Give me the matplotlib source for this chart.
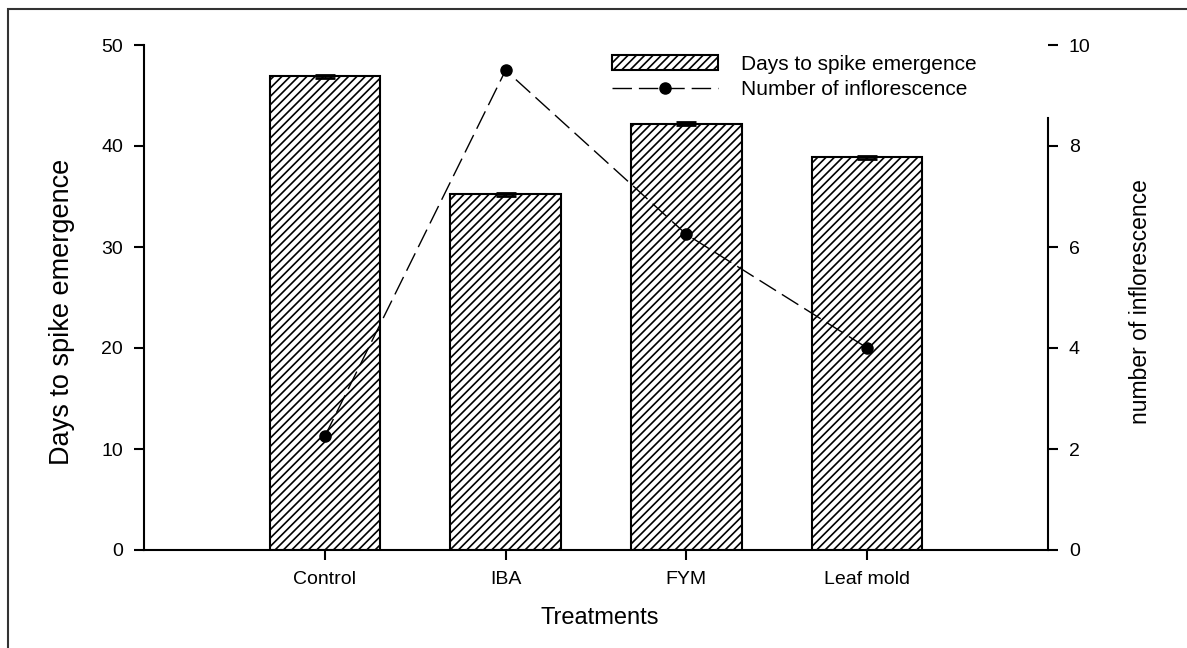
import matplotlib.pyplot as plt
from matplotlib.patches import Rectangle
import numpy as np

# data
treatments = ["Control", "IBA", "FYM", "Leaf mold"]
days_to_spike = [46.9, 35.2, 42.2, 38.9]
days_err = [0.15, 0.15, 0.15, 0.15]
n_inflorescence = [2.25, 9.5, 6.25, 4.0]

left_ticks = [0, 10, 20, 30, 40, 50]
right_ticks = [0, 2, 4, 6, 8, 10]

plt.rcParams['font.family'] = ['Liberation Sans', 'DejaVu Sans']
plt.rcParams['hatch.linewidth'] = 1.2

fig = plt.figure(figsize=(11.87, 6.48), dpi=100)
ax = fig.add_axes([144/1187, 1 - 550/648, (1048-144)/1187, (550-45)/648])
ax2 = ax.twinx()

x = np.arange(len(treatments))
bars = ax.bar(x, days_to_spike, width=0.61, color='white', edgecolor='black',
              linewidth=1.5, hatch='////', label='Days to spike emergence', zorder=2)
ax.errorbar(x, days_to_spike, yerr=days_err, fmt='none', ecolor='black',
            capsize=7, capthick=2, elinewidth=1, zorder=3)

line, = ax2.plot(x, n_inflorescence, color='black', lw=1.0, linestyle=(0, (14, 5)),
                 marker='o', markersize=8, label='Number of inflorescence')

ax.set_xlim(-1, 4)
ax.set_ylim(0, 50)
ax2.set_ylim(0, 10)
ax.set_xticks(x)
ax.set_xticklabels(treatments, fontsize=14)
ax.set_yticks(left_ticks)
ax.set_yticklabels([str(t) for t in left_ticks], fontsize=14)
ax2.set_yticks(right_ticks)
ax2.set_yticklabels([str(t) for t in right_ticks], fontsize=14)

for a in (ax, ax2):
    a.spines['top'].set_visible(False)
    for s in a.spines.values():
        s.set_linewidth(1.5)
ax.spines['right'].set_visible(False)
ax2.spines['left'].set_visible(False)
ax2.spines['bottom'].set_visible(False)
ax2.spines['right'].set_bounds(0, 8.55)

ax.tick_params(axis='both', direction='out', length=7, width=1.5, pad=8)
ax2.tick_params(axis='y', direction='out', length=7, width=1.5, pad=8)

ax.set_ylabel('Days to spike emergence', fontsize=19.5)
ax.yaxis.set_label_coords(-0.076, 0.471)
ax2.set_ylabel('number of inflorescence', fontsize=16.5)
ax2.yaxis.set_label_coords(1.09, 0.491)
ax.set_xlabel('Treatments', fontsize=17)
ax.xaxis.set_label_coords(0.504, -0.112)

ax2.legend([bars, line], ['Days to spike emergence', 'Number of inflorescence'],
           loc='upper left', bbox_to_anchor=(612/1187, 1 - 55/648),
           bbox_transform=fig.transFigure, frameon=False, fontsize=15,
           handlelength=5.1, handleheight=0.72, handletextpad=1.1,
           labelspacing=0.3, borderpad=0, borderaxespad=0, numpoints=1)

# outer frame around the figure
fig.patches.append(Rectangle((8/1187, -0.02), 1.1, 1 - 9/648 + 0.02,
                             transform=fig.transFigure, fill=False,
                             edgecolor='#333333', linewidth=1.5))

fig.savefig('out.png', dpi=100)
